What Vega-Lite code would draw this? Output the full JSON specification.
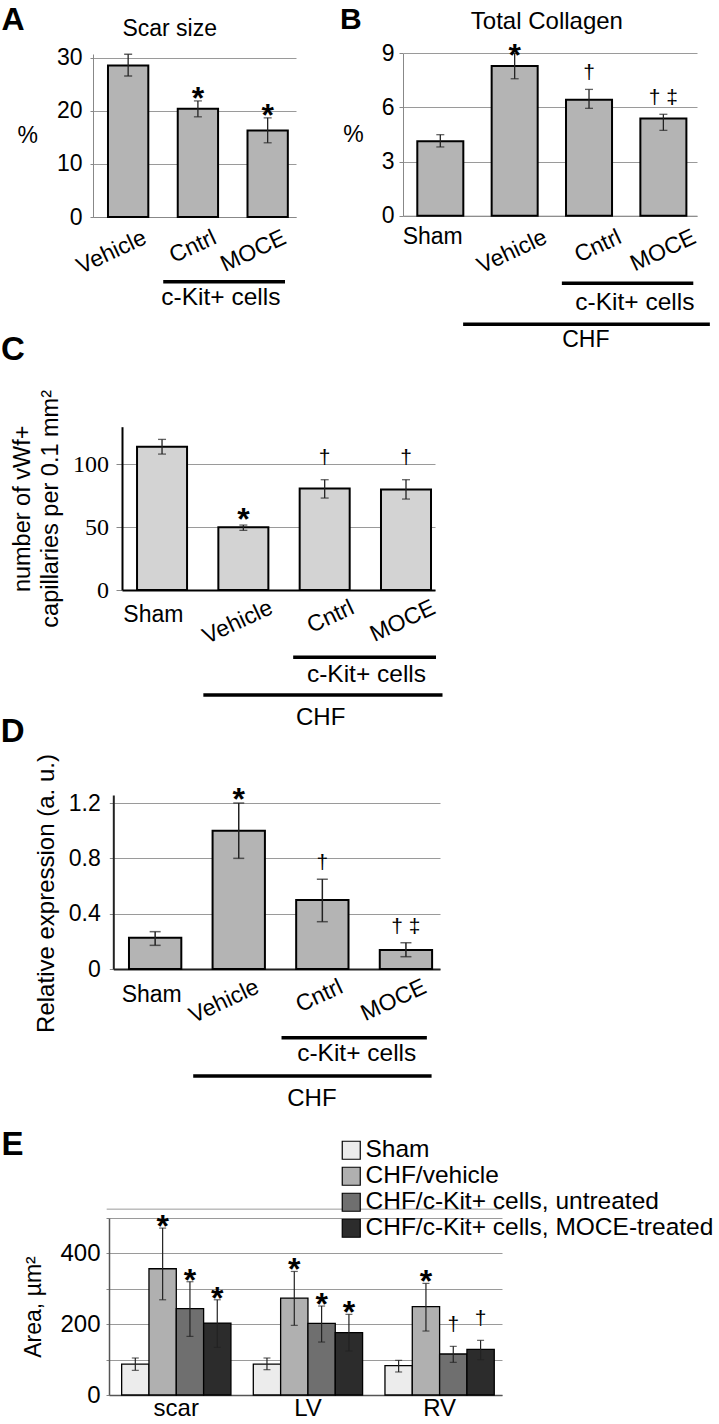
{
 "$schema": "https://vega.github.io/schema/vega-lite/v6.json",
 "width": 719, "height": 1424, "padding": 0, "autosize": {"type": "none"},
 "background": "white",
 "config": {
  "view": {"stroke": null},
  "font": "Liberation Sans",
  "axis": {"labelColor": "#000", "titleColor": "#000", "titleFontWeight": "normal", "labelFontSize": 23, "titleFontSize": 23, "gridColor": "#9a9a9a", "gridWidth": 1, "domainColor": "#888", "tickColor": "#888", "labelOverlap": false, "labelFont": "Liberation Sans", "titleFont": "Liberation Sans"},
  "text": {"font": "Liberation Sans", "color": "#000"}
 },
 "datasets": {
  "A": [
   {"g":"Vehicle","m":28.6,"lo":26.6,"hi":30.7,"s":""},
   {"g":"Cntrl","m":20.4,"lo":18.9,"hi":21.9,"s":"*"},
   {"g":"MOCE","m":16.3,"lo":14.0,"hi":18.7,"s":"*"}
  ],
  "B": [
   {"g":"Sham","m":4.12,"lo":3.81,"hi":4.49,"s":""},
   {"g":"Vehicle","m":8.30,"lo":7.59,"hi":9.0,"s":"*"},
   {"g":"Cntrl","m":6.43,"lo":5.95,"hi":7.0,"s":"†"},
   {"g":"MOCE","m":5.38,"lo":4.73,"hi":5.62,"s":"† ‡"}
  ],
  "C": [
   {"g":"Sham","m":114,"lo":108.2,"hi":119.9,"s":""},
   {"g":"Vehicle","m":49.9,"lo":47.5,"hi":51.7,"s":"*"},
   {"g":"Cntrl","m":80.9,"lo":73.2,"hi":87.8,"s":"†"},
   {"g":"MOCE","m":80.1,"lo":72.4,"hi":87.8,"s":"†"}
  ],
  "D": [
   {"g":"Sham","m":0.226,"lo":0.171,"hi":0.27,"s":""},
   {"g":"Vehicle","m":1.0,"lo":0.80,"hi":1.20,"s":"*"},
   {"g":"Cntrl","m":0.499,"lo":0.342,"hi":0.649,"s":"†"},
   {"g":"MOCE","m":0.137,"lo":0.089,"hi":0.19,"s":"† ‡"}
  ],
  "E": [
   {"grp":"scar","t":"Sham","m":87.5,"lo":69.6,"hi":104.5,"s":""},
   {"grp":"scar","t":"CHF/vehicle","m":356.7,"lo":269,"hi":471.5,"s":"*"},
   {"grp":"scar","t":"CHF/c-Kit+ cells, untreated","m":243.8,"lo":165.6,"hi":320,"s":"*"},
   {"grp":"scar","t":"CHF/c-Kit+ cells, MOCE-treated","m":203.3,"lo":134.6,"hi":269,"s":"*"},
   {"grp":"LV","t":"Sham","m":87.5,"lo":71.5,"hi":104.5,"s":""},
   {"grp":"LV","t":"CHF/vehicle","m":273.9,"lo":196.7,"hi":349,"s":"*"},
   {"grp":"LV","t":"CHF/c-Kit+ cells, untreated","m":202.4,"lo":149.6,"hi":251.3,"s":"*"},
   {"grp":"LV","t":"CHF/c-Kit+ cells, MOCE-treated","m":176,"lo":124.2,"hi":227.8,"s":"*"},
   {"grp":"RV","t":"Sham","m":82.8,"lo":65,"hi":97.9,"s":""},
   {"grp":"RV","t":"CHF/vehicle","m":249.4,"lo":180.7,"hi":315.3,"s":"*"},
   {"grp":"RV","t":"CHF/c-Kit+ cells, untreated","m":115.8,"lo":92.2,"hi":137.4,"s":"†"},
   {"grp":"RV","t":"CHF/c-Kit+ cells, MOCE-treated","m":128.9,"lo":99.8,"hi":154.4,"s":"†"}
  ]
 },
 "layer": [
  {
   "data": {"name": "A"},
   "layer": [
    {"mark": {"type": "bar", "fill": "#b4b4b4", "stroke": "#000", "strokeWidth": 2},
     "encoding": {
      "x": {"field": "g", "type": "nominal", "scale": {"domain": ["Vehicle","Cntrl","MOCE"], "range": [93, 296], "paddingInner": 0.422, "paddingOuter": 0.166, "align": 0.647},
            "axis": {"orient": "bottom", "offset": -1207, "title": null, "ticks": false, "tickSize": 0, "labelAngle": -25, "labelAlign": "right", "labelBaseline": "middle", "labelOffset": 17, "labelPadding": 19}},
      "y": {"field": "m", "type": "quantitative", "scale": {"domain": [0, 30.75], "range": [217, 54], "nice": false},
            "axis": {"orient": "left", "offset": -93, "values": [0,10,20,30], "format": "d", "grid": true, "title": "%", "titleAngle": 0, "titleAlign": "right", "titleBaseline": "middle", "titlePadding": 19, "tickSize": 3, "labelPadding": 8}}
     }},
    {"mark": {"type": "rule", "stroke": "#222", "strokeWidth": 1.3},
     "encoding": {"x": {"field": "g", "type": "nominal"}, "y": {"field": "lo", "type": "quantitative"}, "y2": {"field": "hi"}}},
    {"mark": {"type": "tick", "color": "#222", "thickness": 1.3, "size": 8, "orient": "horizontal"},
     "encoding": {"x": {"field": "g", "type": "nominal"}, "y": {"field": "lo", "type": "quantitative"}}},
    {"mark": {"type": "tick", "color": "#222", "thickness": 1.3, "size": 8, "orient": "horizontal"},
     "encoding": {"x": {"field": "g", "type": "nominal"}, "y": {"field": "hi", "type": "quantitative"}}},
    {"transform": [{"filter": "datum.s === '*'"}],
     "mark": {"type": "text", "fontSize": 32, "fontWeight": "bold", "baseline": "alphabetic", "dy": 7.8},
     "encoding": {"x": {"field": "g", "type": "nominal"}, "y": {"field": "hi", "type": "quantitative"}, "text": {"field": "s"}}},
    {"data": {"values": [{"t": "A"}]},
     "mark": {"type": "text", "fontSize": 32, "fontWeight": "bold", "align": "left", "baseline": "alphabetic"},
     "encoding": {"x": {"datum": "Vehicle", "bandPosition": -2.64}, "y": {"datum": 35.28}, "text": {"field": "t"}}},
    {"data": {"values": [{"t": "Scar size"}]},
     "mark": {"type": "text", "fontSize": 23, "align": "center", "baseline": "alphabetic"},
     "encoding": {"x": {"datum": "Cntrl", "bandPosition": -0.2}, "y": {"datum": 34.15}, "text": {"field": "t"}}},
    {"data": {"values": [{}]},
     "mark": {"type": "rule", "stroke": "#000", "strokeWidth": 3.5},
     "encoding": {"x": {"datum": "Cntrl", "bandPosition": -0.36}, "x2": {"datum": "MOCE", "bandPosition": 0.93}, "y": {"datum": -12.2}}},
    {"data": {"values": [{"t": "c-Kit+ cells"}]},
     "mark": {"type": "text", "fontSize": 24.5, "align": "center", "baseline": "alphabetic"},
     "encoding": {"x": {"datum": "Cntrl", "bandPosition": 1.07}, "y": {"datum": -16.6}, "text": {"field": "t"}}}
   ]
  },
  {
   "data": {"name": "B"},
   "layer": [
    {"mark": {"type": "bar", "fill": "#b4b4b4", "stroke": "#000", "strokeWidth": 2},
     "encoding": {
      "x": {"field": "g", "type": "nominal", "scale": {"domain": ["Sham","Vehicle","Cntrl","MOCE"], "range": [403, 697], "paddingInner": 0.381, "paddingOuter": 0.1675, "align": 0.574},
            "axis": {"orient": "bottom", "offset": -1208.3, "title": null, "ticks": false, "tickSize": 0, "labelAngle": -25, "labelAlign": "right", "labelBaseline": "middle", "labelOffset": 31, "labelPadding": 19.8, "labelExpr": "datum.value === 'Sham' ? '' : datum.label"}},
      "y": {"field": "m", "type": "quantitative", "scale": {"domain": [0, 9], "range": [215.7, 53.3], "nice": false},
            "axis": {"orient": "left", "offset": -403, "values": [0,3,6,9], "format": "d", "grid": true, "title": "%", "titleAngle": 0, "titleAlign": "right", "titleBaseline": "middle", "titlePadding": 18, "tickSize": 4, "labelPadding": 5}}
     }},
    {"mark": {"type": "rule", "stroke": "#222", "strokeWidth": 1.3},
     "encoding": {"x": {"field": "g", "type": "nominal"}, "y": {"field": "lo", "type": "quantitative"}, "y2": {"field": "hi"}}},
    {"mark": {"type": "tick", "color": "#222", "thickness": 1.3, "size": 8, "orient": "horizontal"},
     "encoding": {"x": {"field": "g", "type": "nominal"}, "y": {"field": "lo", "type": "quantitative"}}},
    {"mark": {"type": "tick", "color": "#222", "thickness": 1.3, "size": 8, "orient": "horizontal"},
     "encoding": {"x": {"field": "g", "type": "nominal"}, "y": {"field": "hi", "type": "quantitative"}}},
    {"transform": [{"filter": "datum.s === '*'"}],
     "mark": {"type": "text", "fontSize": 32, "fontWeight": "bold", "baseline": "alphabetic", "dy": 12.8},
     "encoding": {"x": {"field": "g", "type": "nominal"}, "y": {"field": "hi", "type": "quantitative"}, "text": {"field": "s"}}},
    {"transform": [{"filter": "datum.s !== '' && datum.s !== '*'"}],
     "mark": {"type": "text", "fontSize": 21, "baseline": "alphabetic", "dy": -10.5},
     "encoding": {"x": {"field": "g", "type": "nominal"}, "y": {"field": "hi", "type": "quantitative"}, "text": {"field": "s"}}},
    {"data": {"values": [{"t": "Sham"}]},
     "mark": {"type": "text", "fontSize": 23, "align": "center", "baseline": "alphabetic"},
     "encoding": {"x": {"datum": "Sham", "bandPosition": 0.335}, "y": {"datum": -1.58}, "text": {"field": "t"}}},
    {"data": {"values": [{"t": "B"}]},
     "mark": {"type": "text", "fontSize": 30, "fontWeight": "bold", "align": "left", "baseline": "alphabetic"},
     "encoding": {"x": {"datum": "Sham", "bandPosition": -1.68}, "y": {"datum": 10.36}, "text": {"field": "t"}}},
    {"data": {"values": [{"t": "Total Collagen"}]},
     "mark": {"type": "text", "fontSize": 24, "align": "center", "baseline": "alphabetic"},
     "encoding": {"x": {"datum": "Vehicle", "bandPosition": 1.2}, "y": {"datum": 10.32}, "text": {"field": "t"}}},
    {"data": {"values": [{}]},
     "mark": {"type": "rule", "stroke": "#000", "strokeWidth": 3.5},
     "encoding": {"x": {"datum": "Cntrl", "bandPosition": -0.09}, "x2": {"datum": "MOCE", "bandPosition": 1.15}, "y": {"datum": -3.75}}},
    {"data": {"values": [{"t": "c-Kit+ cells"}]},
     "mark": {"type": "text", "fontSize": 24.5, "align": "center", "baseline": "alphabetic"},
     "encoding": {"x": {"datum": "MOCE", "bandPosition": -0.12}, "y": {"datum": -5.23}, "text": {"field": "t"}}},
    {"data": {"values": [{}]},
     "mark": {"type": "rule", "stroke": "#000", "strokeWidth": 3.5},
     "encoding": {"x": {"datum": "Vehicle", "bandPosition": -0.62}, "x2": {"datum": "MOCE", "bandPosition": 1.51}, "y": {"datum": -6.02}}},
    {"data": {"values": [{"t": "CHF"}]},
     "mark": {"type": "text", "fontSize": 23, "align": "center", "baseline": "alphabetic"},
     "encoding": {"x": {"datum": "Cntrl", "bandPosition": 0.43}, "y": {"datum": -7.26}, "text": {"field": "t"}}}
   ]
  },
  {
   "data": {"name": "C"},
   "layer": [
    {"mark": {"type": "bar", "fill": "#d3d3d3", "stroke": "#000", "strokeWidth": 2},
     "encoding": {
      "x": {"field": "g", "type": "nominal", "scale": {"domain": ["Sham","Vehicle","Cntrl","MOCE"], "range": [122, 435], "paddingInner": 0.385, "paddingOuter": 0.117, "align": 0.79},
            "axis": {"orient": "bottom", "offset": -834, "title": null, "ticks": false, "tickSize": 0, "labelAngle": -25, "labelAlign": "right", "labelBaseline": "middle", "domainColor": "#000", "domainWidth": 2, "labelOffset": 28, "labelPadding": 16, "labelExpr": "datum.value === 'Sham' ? '' : datum.label"}},
      "y": {"field": "m", "type": "quantitative", "scale": {"domain": [0, 130], "range": [590, 426.7], "nice": false},
            "axis": {"orient": "left", "offset": -122, "values": [0,50,100], "format": "d", "grid": true, "title": ["number of vWf+", "capillaries per 0.1 mm²"], "titleLineHeight": 28, "titleFontSize": 23.5, "titlePadding": 10, "tickSize": 6, "labelPadding": 7.5, "labelFont": "Liberation Serif", "labelFontSize": 24, "domainColor": "#000", "domainWidth": 2}}
     }},
    {"mark": {"type": "rule", "stroke": "#222", "strokeWidth": 1.3},
     "encoding": {"x": {"field": "g", "type": "nominal"}, "y": {"field": "lo", "type": "quantitative"}, "y2": {"field": "hi"}}},
    {"mark": {"type": "tick", "color": "#222", "thickness": 1.3, "size": 8, "orient": "horizontal"},
     "encoding": {"x": {"field": "g", "type": "nominal"}, "y": {"field": "lo", "type": "quantitative"}}},
    {"mark": {"type": "tick", "color": "#222", "thickness": 1.3, "size": 8, "orient": "horizontal"},
     "encoding": {"x": {"field": "g", "type": "nominal"}, "y": {"field": "hi", "type": "quantitative"}}},
    {"transform": [{"filter": "datum.s === '*'"}],
     "mark": {"type": "text", "fontSize": 32, "fontWeight": "bold", "baseline": "alphabetic", "dy": 4.8},
     "encoding": {"x": {"field": "g", "type": "nominal"}, "y": {"field": "hi", "type": "quantitative"}, "text": {"field": "s"}}},
    {"transform": [{"filter": "datum.s !== '' && datum.s !== '*'"}],
     "mark": {"type": "text", "fontSize": 21, "baseline": "alphabetic", "dy": -15.6},
     "encoding": {"x": {"field": "g", "type": "nominal"}, "y": {"field": "hi", "type": "quantitative"}, "text": {"field": "s"}}},
    {"data": {"values": [{"t": "Sham"}]},
     "mark": {"type": "text", "fontSize": 23, "align": "center", "baseline": "alphabetic"},
     "encoding": {"x": {"datum": "Sham", "bandPosition": 0.326}, "y": {"datum": -25.1}, "text": {"field": "t"}}},
    {"data": {"values": [{"t": "C"}]},
     "mark": {"type": "text", "fontSize": 33, "fontWeight": "bold", "align": "left", "baseline": "alphabetic"},
     "encoding": {"x": {"datum": "Sham", "bandPosition": -2.72}, "y": {"datum": 183.1}, "text": {"field": "t"}}},
    {"data": {"values": [{}]},
     "mark": {"type": "rule", "stroke": "#000", "strokeWidth": 3.5},
     "encoding": {"x": {"datum": "Cntrl", "bandPosition": -0.13}, "x2": {"datum": "MOCE", "bandPosition": 1.1}, "y": {"datum": -53.6}}},
    {"data": {"values": [{"t": "c-Kit+ cells"}]},
     "mark": {"type": "text", "fontSize": 24.5, "align": "center", "baseline": "alphabetic"},
     "encoding": {"x": {"datum": "MOCE", "bandPosition": -0.29}, "y": {"datum": -73.0}, "text": {"field": "t"}}},
    {"data": {"values": [{}]},
     "mark": {"type": "rule", "stroke": "#000", "strokeWidth": 3.5},
     "encoding": {"x": {"datum": "Vehicle", "bandPosition": -0.3}, "x2": {"datum": "MOCE", "bandPosition": 1.23}, "y": {"datum": -83.6}}},
    {"data": {"values": [{"t": "CHF"}]},
     "mark": {"type": "text", "fontSize": 24, "align": "center", "baseline": "alphabetic"},
     "encoding": {"x": {"datum": "Cntrl", "bandPosition": 0.42}, "y": {"datum": -107.5}, "text": {"field": "t"}}}
   ]
  },
  {
   "data": {"name": "D"},
   "layer": [
    {"mark": {"type": "bar", "fill": "#b4b4b4", "stroke": "#000", "strokeWidth": 2},
     "encoding": {
      "x": {"field": "g", "type": "nominal", "scale": {"domain": ["Sham","Vehicle","Cntrl","MOCE"], "range": [113.3, 440], "paddingInner": 0.374, "paddingOuter": 0.141, "align": 0.665},
            "axis": {"orient": "bottom", "offset": -455, "title": null, "ticks": false, "tickSize": 0, "labelAngle": -25, "labelAlign": "right", "labelBaseline": "middle", "domainColor": "#222", "domainWidth": 2, "labelOffset": 19, "labelPadding": 16.2, "labelExpr": "datum.value === 'Sham' ? '' : datum.label"}},
      "y": {"field": "m", "type": "quantitative", "scale": {"domain": [0, 1.258], "range": [969, 795], "nice": false},
            "axis": {"orient": "left", "offset": -113.3, "values": [0,0.4,0.8,1.2], "labelExpr": "datum.value === 0 ? '0' : format(datum.value, '.1f')", "grid": true, "title": "Relative expression (a. u.)", "titleFontSize": 24, "titlePadding": 10, "titleY": 893, "tickSize": 4, "labelPadding": 9, "domainColor": "#222", "domainWidth": 2}}
     }},
    {"mark": {"type": "rule", "stroke": "#222", "strokeWidth": 1.5},
     "encoding": {"x": {"field": "g", "type": "nominal"}, "y": {"field": "lo", "type": "quantitative"}, "y2": {"field": "hi"}}},
    {"mark": {"type": "tick", "color": "#222", "thickness": 1.5, "size": 11, "orient": "horizontal"},
     "encoding": {"x": {"field": "g", "type": "nominal"}, "y": {"field": "lo", "type": "quantitative"}}},
    {"mark": {"type": "tick", "color": "#222", "thickness": 1.5, "size": 11, "orient": "horizontal"},
     "encoding": {"x": {"field": "g", "type": "nominal"}, "y": {"field": "hi", "type": "quantitative"}}},
    {"transform": [{"filter": "datum.s === '*'"}],
     "mark": {"type": "text", "fontSize": 32, "fontWeight": "bold", "baseline": "alphabetic", "dy": 6.8},
     "encoding": {"x": {"field": "g", "type": "nominal"}, "y": {"field": "hi", "type": "quantitative"}, "text": {"field": "s"}}},
    {"transform": [{"filter": "datum.s !== '' && datum.s !== '*'"}],
     "mark": {"type": "text", "fontSize": 21, "baseline": "alphabetic", "dy": -10},
     "encoding": {"x": {"field": "g", "type": "nominal"}, "y": {"field": "hi", "type": "quantitative"}, "text": {"field": "s"}}},
    {"data": {"values": [{"t": "Sham"}]},
     "mark": {"type": "text", "fontSize": 23, "align": "center", "baseline": "alphabetic"},
     "encoding": {"x": {"datum": "Sham", "bandPosition": 0.434}, "y": {"datum": -0.235}, "text": {"field": "t"}}},
    {"data": {"values": [{"t": "D"}]},
     "mark": {"type": "text", "fontSize": 33, "fontWeight": "bold", "align": "left", "baseline": "alphabetic"},
     "encoding": {"x": {"datum": "Sham", "bandPosition": -2.45}, "y": {"datum": 1.643}, "text": {"field": "t"}}},
    {"data": {"values": [{}]},
     "mark": {"type": "rule", "stroke": "#000", "strokeWidth": 3.5},
     "encoding": {"x": {"datum": "Cntrl", "bandPosition": -0.28}, "x2": {"datum": "MOCE", "bandPosition": 0.9}, "y": {"datum": -0.497}}},
    {"data": {"values": [{"t": "c-Kit+ cells"}]},
     "mark": {"type": "text", "fontSize": 24.5, "align": "center", "baseline": "alphabetic"},
     "encoding": {"x": {"datum": "MOCE", "bandPosition": -0.44}, "y": {"datum": -0.665}, "text": {"field": "t"}}},
    {"data": {"values": [{}]},
     "mark": {"type": "rule", "stroke": "#000", "strokeWidth": 3.5},
     "encoding": {"x": {"datum": "Vehicle", "bandPosition": -0.37}, "x2": {"datum": "MOCE", "bandPosition": 0.99}, "y": {"datum": -0.774}}},
    {"data": {"values": [{"t": "CHF"}]},
     "mark": {"type": "text", "fontSize": 24, "align": "center", "baseline": "alphabetic"},
     "encoding": {"x": {"datum": "Cntrl", "bandPosition": 0.3}, "y": {"datum": -0.99}, "text": {"field": "t"}}}
   ]
  },
  {
   "data": {"name": "E"},
   "layer": [
    {"mark": {"type": "bar", "stroke": "#000", "strokeWidth": 1.3},
     "encoding": {
      "x": {"field": "grp", "type": "nominal", "scale": {"domain": ["scar","LV","RV"], "range": [109, 502], "paddingInner": 0.17, "paddingOuter": 0.0775, "align": 0.62},
            "axis": {"orient": "bottom", "offset": -29, "title": null, "ticks": false, "tickSize": 0, "labelAngle": 0, "labelAlign": "center", "labelBaseline": "top", "labelPadding": 1, "labelFontSize": 24, "domainColor": "#555", "domainWidth": 1.5}},
      "xOffset": {"field": "t", "type": "nominal", "scale": {"domain": ["Sham","CHF/vehicle","CHF/c-Kit+ cells, untreated","CHF/c-Kit+ cells, MOCE-treated"], "paddingInner": 0, "paddingOuter": 0}},
      "y": {"field": "m", "type": "quantitative", "scale": {"domain": [0, 500], "range": [1395, 1218], "nice": false},
            "axis": {"orient": "left", "offset": -109, "values": [0,100,200,300,400,500], "labelExpr": "datum.value % 200 === 0 ? datum.label : ''", "grid": true, "title": "Area, µm²", "titleFontSize": 23, "titlePadding": 14, "tickSize": 3, "labelPadding": 6, "labelFontSize": 24, "domainColor": "#555", "domainWidth": 1.5}},
      "color": {"field": "t", "type": "nominal", "scale": {"domain": ["Sham","CHF/vehicle","CHF/c-Kit+ cells, untreated","CHF/c-Kit+ cells, MOCE-treated"], "range": ["#ececec","#b0b0b0","#6f6f6f","#2c2c2c"]},
                "legend": {"orient": "none", "legendX": 339, "legendY": 1138, "title": null, "symbolType": "square", "symbolSize": 324, "symbolStrokeColor": "#000", "symbolStrokeWidth": 1.2, "symbolOpacity": 1, "labelFontSize": 24.5, "labelFont": "Liberation Sans", "labelColor": "#000", "labelOffset": 2, "rowPadding": 1, "padding": 0, "labelLimit": 600}}
     }},
    {"mark": {"type": "rule", "stroke": "#222", "strokeWidth": 1.2},
     "encoding": {"x": {"field": "grp", "type": "nominal"}, "xOffset": {"field": "t", "type": "nominal"}, "y": {"field": "lo", "type": "quantitative"}, "y2": {"field": "hi"}}},
    {"mark": {"type": "tick", "color": "#222", "thickness": 1.2, "size": 7, "orient": "horizontal"},
     "encoding": {"x": {"field": "grp", "type": "nominal"}, "xOffset": {"field": "t", "type": "nominal"}, "y": {"field": "lo", "type": "quantitative"}}},
    {"mark": {"type": "tick", "color": "#222", "thickness": 1.2, "size": 7, "orient": "horizontal"},
     "encoding": {"x": {"field": "grp", "type": "nominal"}, "xOffset": {"field": "t", "type": "nominal"}, "y": {"field": "hi", "type": "quantitative"}}},
    {"transform": [{"filter": "datum.s === '*'"}],
     "mark": {"type": "text", "fontSize": 32, "fontWeight": "bold", "baseline": "alphabetic", "dy": 8.8},
     "encoding": {"x": {"field": "grp", "type": "nominal"}, "xOffset": {"field": "t", "type": "nominal"}, "y": {"field": "hi", "type": "quantitative"}, "text": {"field": "s"}}},
    {"transform": [{"filter": "datum.s !== '' && datum.s !== '*'"}],
     "mark": {"type": "text", "fontSize": 21, "baseline": "alphabetic", "dy": -15},
     "encoding": {"x": {"field": "grp", "type": "nominal"}, "xOffset": {"field": "t", "type": "nominal"}, "y": {"field": "hi", "type": "quantitative"}, "text": {"field": "s"}}},
    {"data": {"values": [{"t": "E"}]},
     "mark": {"type": "text", "fontSize": 33, "fontWeight": "bold", "align": "left", "baseline": "alphabetic"},
     "encoding": {"x": {"datum": "scar", "bandPosition": -1.1}, "y": {"datum": 678}, "text": {"field": "t"}}},
    {"data": {"values": [{}]},
     "mark": {"type": "rule", "stroke": "#9a9a9a", "strokeWidth": 1},
     "encoding": {"x": {"datum": "scar", "bandPosition": -0.137}, "x2": {"datum": "RV", "bandPosition": 1.071}, "y": {"datum": 525}}}
   ]
  }
 ],
 "resolve": {"scale": {"x": "independent", "y": "independent"}}
}
